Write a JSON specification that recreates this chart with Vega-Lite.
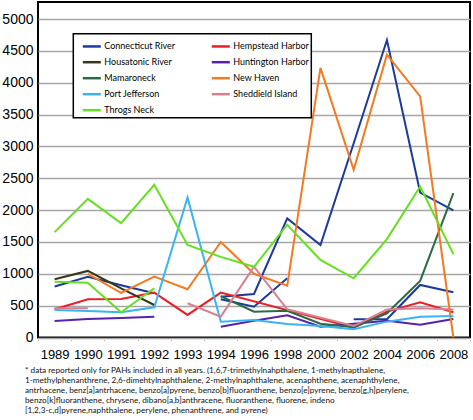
{
  "$schema": "https://vega.github.io/schema/vega-lite/v6.json",
  "width": 432,
  "height": 335.5,
  "autosize": "none",
  "padding": {"left": 38, "top": 2, "right": 3, "bottom": 82.5},
  "background": "white",
  "config": {
    "view": {"stroke": "#000000", "strokeWidth": 2},
    "font": "Liberation Sans",
    "legend": {"strokeWidth": 1.5}
  },
  "title": {
    "text": [
      "* data reported only for PAHs included in all years. (1,6,7-trimethylnahpthalene, 1-methylnapthalene,",
      "1-methylphenanthrene, 2,6-dimehtylnaphthalene, 2-methylnaphthalene, acenaphthene, acenaphthylene,",
      "antrhacene, benz[a]antrhacene, benzo[a]pyrene, benzo[b]fluoranthene, benzo[e]pyrene, benzo[g,h]perylene,",
      "benzo[k]fluoranthene, chrysene, dibano[a,b]anthracene, fluoranthene, fluorene, indeno",
      "[1,2,3-c,d]pyrene,naphthalene, perylene, phenanthrene, and pyrene)"
    ],
    "orient": "bottom",
    "anchor": "start",
    "frame": "group",
    "dx": -13,
    "offset": 5,
    "font": "Lato",
    "fontSize": 8.2,
    "fontWeight": "normal",
    "lineHeight": 10,
    "color": "#111111"
  },
  "data": {
    "values": [
      {"site": "Connecticut River", "seg": "a", "year": "1989", "v": 800},
      {"site": "Connecticut River", "seg": "a", "year": "1990", "v": 955},
      {"site": "Connecticut River", "seg": "a", "year": "1991", "v": 820},
      {"site": "Connecticut River", "seg": "a", "year": "1992", "v": 695},
      {"site": "Connecticut River", "seg": "b", "year": "1994", "v": 640},
      {"site": "Connecticut River", "seg": "b", "year": "1996", "v": 684},
      {"site": "Connecticut River", "seg": "b", "year": "1998", "v": 1870},
      {"site": "Connecticut River", "seg": "b", "year": "2000", "v": 1450},
      {"site": "Connecticut River", "seg": "b", "year": "2002", "v": 3050},
      {"site": "Connecticut River", "seg": "b", "year": "2004", "v": 4670},
      {"site": "Connecticut River", "seg": "b", "year": "2006", "v": 2275},
      {"site": "Connecticut River", "seg": "b", "year": "2008", "v": 1995},
      {"site": "Connecticut River", "seg": "c", "year": "1994", "v": 600},
      {"site": "Connecticut River", "seg": "c", "year": "1996", "v": 484},
      {"site": "Connecticut River", "seg": "c", "year": "1998", "v": 930},
      {"site": "Connecticut River", "seg": "d", "year": "2002", "v": 286},
      {"site": "Connecticut River", "seg": "d", "year": "2004", "v": 286},
      {"site": "Connecticut River", "seg": "d", "year": "2006", "v": 825},
      {"site": "Connecticut River", "seg": "d", "year": "2008", "v": 710},

      {"site": "Hempstead Harbor", "seg": "a", "year": "1989", "v": 443},
      {"site": "Hempstead Harbor", "seg": "a", "year": "1990", "v": 600},
      {"site": "Hempstead Harbor", "seg": "a", "year": "1991", "v": 605},
      {"site": "Hempstead Harbor", "seg": "a", "year": "1992", "v": 705},
      {"site": "Hempstead Harbor", "seg": "a", "year": "1993", "v": 354},
      {"site": "Hempstead Harbor", "seg": "a", "year": "1994", "v": 705},
      {"site": "Hempstead Harbor", "seg": "a", "year": "2002", "v": 155},
      {"site": "Hempstead Harbor", "seg": "a", "year": "2004", "v": 406},
      {"site": "Hempstead Harbor", "seg": "a", "year": "2006", "v": 553},
      {"site": "Hempstead Harbor", "seg": "a", "year": "2008", "v": 396},

      {"site": "Housatonic River", "seg": "a", "year": "1989", "v": 915},
      {"site": "Housatonic River", "seg": "a", "year": "1990", "v": 1045},
      {"site": "Housatonic River", "seg": "a", "year": "1991", "v": 770},
      {"site": "Housatonic River", "seg": "a", "year": "1992", "v": 510},

      {"site": "Huntington Harbor", "seg": "a", "year": "1989", "v": 259},
      {"site": "Huntington Harbor", "seg": "a", "year": "1990", "v": 290},
      {"site": "Huntington Harbor", "seg": "a", "year": "1991", "v": 305},
      {"site": "Huntington Harbor", "seg": "a", "year": "1992", "v": 327},
      {"site": "Huntington Harbor", "seg": "b", "year": "1994", "v": 170},
      {"site": "Huntington Harbor", "seg": "b", "year": "1996", "v": 262},
      {"site": "Huntington Harbor", "seg": "b", "year": "1998", "v": 349},
      {"site": "Huntington Harbor", "seg": "b", "year": "2000", "v": 170},
      {"site": "Huntington Harbor", "seg": "b", "year": "2002", "v": 215},
      {"site": "Huntington Harbor", "seg": "b", "year": "2004", "v": 262},
      {"site": "Huntington Harbor", "seg": "b", "year": "2006", "v": 200},
      {"site": "Huntington Harbor", "seg": "b", "year": "2008", "v": 290},

      {"site": "Mamaroneck", "seg": "a", "year": "1994", "v": 650},
      {"site": "Mamaroneck", "seg": "a", "year": "1996", "v": 406},
      {"site": "Mamaroneck", "seg": "a", "year": "1998", "v": 420},
      {"site": "Mamaroneck", "seg": "a", "year": "2000", "v": 215},
      {"site": "Mamaroneck", "seg": "a", "year": "2002", "v": 160},
      {"site": "Mamaroneck", "seg": "a", "year": "2004", "v": 380},
      {"site": "Mamaroneck", "seg": "a", "year": "2006", "v": 888},
      {"site": "Mamaroneck", "seg": "a", "year": "2008", "v": 2265},

      {"site": "New Haven", "seg": "a", "year": "1990", "v": 1000},
      {"site": "New Haven", "seg": "a", "year": "1991", "v": 700},
      {"site": "New Haven", "seg": "a", "year": "1992", "v": 955},
      {"site": "New Haven", "seg": "a", "year": "1993", "v": 758},
      {"site": "New Haven", "seg": "a", "year": "1994", "v": 1500},
      {"site": "New Haven", "seg": "a", "year": "1996", "v": 1000},
      {"site": "New Haven", "seg": "a", "year": "1998", "v": 815},
      {"site": "New Haven", "seg": "a", "year": "2000", "v": 4232},
      {"site": "New Haven", "seg": "a", "year": "2002", "v": 2633},
      {"site": "New Haven", "seg": "a", "year": "2004", "v": 4441},
      {"site": "New Haven", "seg": "a", "year": "2006", "v": 3785},
      {"site": "New Haven", "seg": "a", "year": "2008", "v": 0},

      {"site": "Port Jefferson", "seg": "a", "year": "1989", "v": 432},
      {"site": "Port Jefferson", "seg": "a", "year": "1990", "v": 416},
      {"site": "Port Jefferson", "seg": "a", "year": "1991", "v": 396},
      {"site": "Port Jefferson", "seg": "a", "year": "1992", "v": 475},
      {"site": "Port Jefferson", "seg": "a", "year": "1993", "v": 2198},
      {"site": "Port Jefferson", "seg": "a", "year": "1994", "v": 249},
      {"site": "Port Jefferson", "seg": "a", "year": "1996", "v": 275},
      {"site": "Port Jefferson", "seg": "a", "year": "1998", "v": 212},
      {"site": "Port Jefferson", "seg": "a", "year": "2000", "v": 181},
      {"site": "Port Jefferson", "seg": "a", "year": "2002", "v": 129},
      {"site": "Port Jefferson", "seg": "a", "year": "2004", "v": 249},
      {"site": "Port Jefferson", "seg": "a", "year": "2006", "v": 327},
      {"site": "Port Jefferson", "seg": "a", "year": "2008", "v": 338},

      {"site": "Sheddield Island", "seg": "a", "year": "1989", "v": 459},
      {"site": "Sheddield Island", "seg": "a", "year": "1990", "v": 459},
      {"site": "Sheddield Island", "seg": "b", "year": "1993", "v": 537},
      {"site": "Sheddield Island", "seg": "b", "year": "1994", "v": 327},
      {"site": "Sheddield Island", "seg": "b", "year": "1996", "v": 1113},
      {"site": "Sheddield Island", "seg": "b", "year": "1998", "v": 443},
      {"site": "Sheddield Island", "seg": "b", "year": "2002", "v": 180},
      {"site": "Sheddield Island", "seg": "b", "year": "2004", "v": 440},
      {"site": "Sheddield Island", "seg": "b", "year": "2006", "v": 460},
      {"site": "Sheddield Island", "seg": "b", "year": "2008", "v": 440},

      {"site": "Throgs Neck", "seg": "a", "year": "1989", "v": 1654},
      {"site": "Throgs Neck", "seg": "a", "year": "1990", "v": 2177},
      {"site": "Throgs Neck", "seg": "a", "year": "1991", "v": 1795},
      {"site": "Throgs Neck", "seg": "a", "year": "1992", "v": 2397},
      {"site": "Throgs Neck", "seg": "a", "year": "1993", "v": 1454},
      {"site": "Throgs Neck", "seg": "a", "year": "1994", "v": 1265},
      {"site": "Throgs Neck", "seg": "a", "year": "1996", "v": 1110},
      {"site": "Throgs Neck", "seg": "a", "year": "1998", "v": 1770},
      {"site": "Throgs Neck", "seg": "a", "year": "2000", "v": 1218},
      {"site": "Throgs Neck", "seg": "a", "year": "2002", "v": 930},
      {"site": "Throgs Neck", "seg": "a", "year": "2004", "v": 1544},
      {"site": "Throgs Neck", "seg": "a", "year": "2006", "v": 2370},
      {"site": "Throgs Neck", "seg": "a", "year": "2008", "v": 1308},
      {"site": "Throgs Neck", "seg": "b", "year": "1989", "v": 877},
      {"site": "Throgs Neck", "seg": "b", "year": "1990", "v": 861},
      {"site": "Throgs Neck", "seg": "b", "year": "1991", "v": 396},
      {"site": "Throgs Neck", "seg": "b", "year": "1992", "v": 773}
    ]
  },
  "mark": {"type": "line", "strokeWidth": 2},
  "encoding": {
    "x": {
      "field": "year",
      "type": "ordinal",
      "sort": ["1989","1990","1991","1992","1993","1994","1996","1998","2000","2002","2004","2006","2008"],
      "scale": {"type": "band", "paddingInner": 0, "paddingOuter": 0},
      "bandPosition": 0.5,
      "axis": {
        "title": null,
        "labelAngle": 0,
        "labelFont": "Liberation Sans",
        "labelFontSize": 13,
        "labelColor": "#000000",
        "labelPadding": 7,
        "tickBand": "extent",
        "ticks": true,
        "tickColor": "#aaaaaa",
        "tickSize": 4,
        "tickDash": [1, 1],
        "domain": false,
        "grid": false
      }
    },
    "y": {
      "field": "v",
      "type": "quantitative",
      "scale": {"domain": [0, 5267], "nice": false, "zero": true},
      "axis": {
        "title": null,
        "format": "d",
        "values": [0, 500, 1000, 1500, 2000, 2500, 3000, 3500, 4000, 4500, 5000],
        "labelFont": "Liberation Sans",
        "labelFontSize": 14,
        "labelColor": "#000000",
        "labelPadding": 5,
        "ticks": false,
        "domain": false,
        "grid": true,
        "gridColor": "#a6a6a6",
        "gridWidth": 1.5
      }
    },
    "color": {
      "field": "site",
      "type": "nominal",
      "scale": {
        "domain": ["Connecticut River", "Housatonic River", "Mamaroneck", "Port Jefferson", "Throgs Neck", "Hempstead Harbor", "Huntington Harbor", "New Haven", "Sheddield Island"],
        "range": ["#1c3a9e", "#35361a", "#2a6b45", "#3ab4f0", "#66e01e", "#ee1c25", "#5522aa", "#f47a20", "#d8808f"]
      },
      "legend": {
        "title": null,
        "orient": "none",
        "legendX": 35.3,
        "legendY": 31.7,
        "columns": 2,
        "columnPadding": 29,
        "rowPadding": -4.8,
        "padding": 2,
        "fillColor": "#ffffff",
        "strokeColor": "#000000",
        "symbolType": "stroke",
        "symbolSize": 324,
        "symbolStrokeWidth": 2.5,
        "symbolOffset": 6,
        "labelOffset": 2,
        "labelFont": "Lato",
        "labelFontSize": 9,
        "labelFontWeight": "normal",
        "labelColor": "#000000",
        "labelLimit": 200
      }
    },
    "detail": {"field": "seg"}
  }
}
